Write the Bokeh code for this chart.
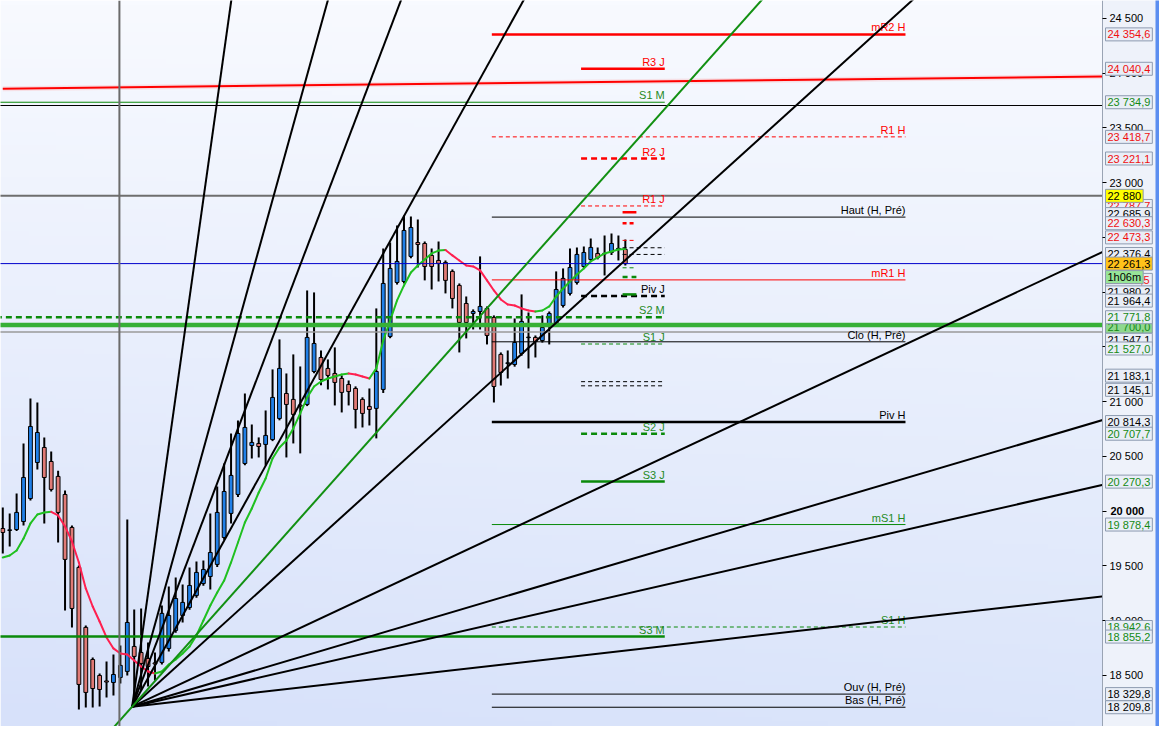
import numpy as np
from bokeh.plotting import figure
from bokeh.models import Range1d, FixedTicker, Span, LinearAxis
from bokeh.embed import file_html
from bokeh.resources import INLINE
from bokeh.core.properties import value

# ---------------- data ----------------
opens = [19842, 19824, 19833, 19906, 20116, 20445, 20582, 20454, 20318, 20153,
         19852, 19487, 18939, 18646, 18500, 18450, 18436, 18482, 18537, 18765,
         18710, 18655, 18615, 18619, 18747, 18911, 19048, 19121, 19231, 19340,
         19404, 19514, 19760, 19980, 20153, 20436, 20600, 20618, 20610, 20655,
         20847, 21075, 21021, 20970, 20975, 21276, 21404, 21304, 21258, 21212,
         21157, 21121, 21021, 20957, 20939, 21112, 21596, 22089, 22098, 22327,
         22454, 22445, 22336, 22290, 22272, 22190, 22062, 21897, 21806, 21824,
         21852, 21770, 21432, 21350, 21340, 21441, 21585, 21587, 21559, 21706,
         21715, 21879, 21989, 22089, 22235, 22299, 22354, 22350, 22363, 22395,
         22391]
highs = [20034, 19979, 20162, 20619, 21030, 20993, 20674, 20546, 20370, 20190,
         19870, 19505, 18957, 18664, 18518, 18628, 18692, 18774, 19925, 19103,
         19112, 18802, 18710, 19140, 19313, 19395, 19331, 19487, 19541, 19550,
         19979, 20226, 20436, 20710, 20829, 21075, 20792, 20674, 20920, 21295,
         21569, 21258, 21432, 21322, 22016, 21998, 21468, 21386, 21496, 21240,
         21194, 21140, 21040, 21121, 21852, 22400, 22454, 22610, 22701, 22692,
         22664, 22463, 22400, 22463, 22290, 22208, 22080, 21961, 21843, 22327,
         21870, 21788, 21450, 21468, 21760, 21980, 21815, 21605, 21788, 21824,
         22190, 22217, 22400, 22409, 22418, 22491, 22409, 22518, 22536, 22518,
         22482]
lows = [19614, 19678, 19820, 19870, 20098, 20381, 19888, 20180, 19715, 19094,
        18939, 18190, 18208, 18208, 18217, 18299, 18318, 18427, 18500, 18272,
        18363, 18400, 18454, 18600, 18720, 18890, 18984, 19100, 19210, 19320,
        19286, 19490, 19740, 19888, 20130, 20420, 20482, 20491, 20418, 20640,
        20830, 20491, 20619, 20528, 20960, 21260, 21150, 21112, 20966, 20902,
        20966, 20756, 20765, 20783, 20665, 21080, 21580, 22070, 22080, 22310,
        22226, 22108, 22025, 22098, 21989, 21852, 21450, 21578, 21660, 21660,
        21523, 20993, 21148, 21212, 21320, 21420, 21304, 21404, 21540, 21523,
        21700, 21860, 21970, 22070, 22220, 22280, 22300, 22153, 22340, 22290,
        22244]
closes = [19806, 19830, 19989, 20308, 20774, 20719, 20308, 20199, 19989, 19560,
          19112, 18418, 18345, 18381, 18372, 18440, 18509, 18592, 18984, 18674,
          18610, 18582, 18605, 19067, 19048, 19203, 19167, 19322, 19441, 19468,
          19623, 19989, 20180, 20327, 20710, 20765, 20628, 20591, 20692, 21039,
          21304, 20975, 20884, 20960, 21587, 21532, 21203, 21240, 21176, 21085,
          21093, 20929, 20893, 20929, 21276, 22080, 22217, 22281, 22564, 22591,
          22436, 22235, 22235, 22263, 22108, 21943, 21724, 21724, 21824, 21870,
          21605, 21139, 21267, 21355, 21541, 21733, 21590, 21550, 21678, 21806,
          22025, 22126, 22226, 22345, 22363, 22409, 22317, 22355, 22445, 22400,
          22261.3]
ma = [19578, 19596, 19641, 19751, 19888, 19970, 19989, 19995, 19961, 19861,
      19724, 19532, 19295, 19130, 18993, 18847, 18747, 18701, 18692, 18637,
      18582, 18537, 18518, 18537, 18600, 18646, 18701, 18765, 18865, 19002,
      19139, 19257, 19367, 19532, 19714, 19897, 20025, 20171, 20299, 20482,
      20582, 20646, 20756, 20893, 21038, 21139, 21185, 21212, 21230, 21249,
      21258, 21249, 21230, 21212, 21304, 21559, 21742, 21925, 22062, 22180,
      22244, 22299, 22354, 22380, 22386, 22336, 22290, 22244, 22235, 22199,
      22108, 22016, 21934, 21888, 21879, 21852, 21833, 21824, 21833, 21870,
      21961, 22034, 22098, 22162, 22217, 22281, 22317, 22354, 22372, 22390,
      22395]

level_names = ["mR2 H", "R3 J", "S1 M", "R1 H", "R2 J", "R1 J", "Haut (H, Pré)",
               "mR1 H", "Piv J", "S2 M", "Clo (H, Pré)", "S1 J", "Piv H", "S2 J",
               "S3 J", "mS1 H", "S1 H", "S3 M", "Ouv (H, Pré)", "Bas (H, Pré)"]
level_values = [24354.6, 24040.4, 23734.9, 23418.7, 23221.1, 22787.7, 22685.9,
                22112.5, 21964.4, 21771.8, 21547.1, 21527.0, 20814.3, 20707.7,
                20270.3, 19878.4, 18942.6, 18855.2, 18329.8, 18209.8]

# short unlabelled levels near the last bar
short_values = [22731.0, 22630.3, 22473.3, 22406.0, 22345.0, 22223.0, 22138.0, 21980.0]
other_values = [21183.1, 21145.1]

# full width horizontal lines
full_values = [23705.0, 22880.0, 21637.0, 21700.0]
last_price = 22261.3
timer_text = "1h06m"

fan_origin = (18.7, 18215.0)
fan_slopes = [450, 228, 166, 114, 57.2, 29.6, 18.66, 14.44, 7.18]
fan_green_slope = 70.9
trend_x = [0, 159]
trend_y = [23859, 23970]
cursor_bar = 16.86

tick_values = list(range(18500, 25000, 500))

tag_values = [24354.6, 24040.4, 23734.9, 23418.7, 23221.1, 22787.7, 22880.0, 22685.9,
              22630.3, 22473.3, 22376.4, 22112.5, 22261.3, 22261.3, 21980.2, 21964.4,
              21700.0, 21771.8, 21547.1, 21527.0, 21183.1, 21145.1, 20814.3, 20707.7,
              20270.3, 19878.4, 18942.6, 18855.2, 18329.8, 18209.8]


def fmt(v, dec=1):
    return f"{v:,.{dec}f}".replace(",", " ").replace(".", ",")


# ---------------- figure ----------------
FIG_W, FIG_H = 1159, 726
PLOT_W = 1102                      # width of the price area, axis panel to its right
ppb = 6.98 * PLOT_W / 1112         # pixels per bar
X0 = -0.33
X1 = X0 + FIG_W / ppb
AX = X0 + PLOT_W / ppb
Y_BOT, Y_TOP = 18034.0, 24664.0
ppu = FIG_H / (Y_TOP - Y_BOT)

RED = "#ff0000"
GREEN = "#0a8a0a"
BLACK = "#000000"
FONT = "Liberation Sans"

p = figure(width=FIG_W, height=FIG_H, x_range=Range1d(X0, X1), y_range=Range1d(Y_BOT, Y_TOP),
           x_axis_location=None, y_axis_location=None, toolbar_location=None, tools="",
           output_backend="svg", min_border=0)
p.grid.visible = False
p.outline_line_color = None
p.border_fill_color = "#eef2fa"

# background gradient
H, W = 160, 40
t = np.linspace(0, 1, H)[:, None]          # 0 bottom, 1 top
u = np.linspace(0, 1, W)[None, :]          # 0 left, 1 right
top = np.array([248, 250, 255])
bot = np.array([219, 229, 250])
img = np.empty((H, W), dtype=np.uint32)
view = img.view(dtype=np.uint8).reshape((H, W, 4))
for k in range(3):
    c = bot[k] * (1 - t) + top[k] * t - (1 - u) * (1 - t) * 4 * (k < 2)
    view[:, :, k] = np.clip(c, 0, 255).astype(np.uint8)
view[:, :, 3] = 255
p.image_rgba(image=[img], x=X0, y=Y_BOT, dw=AX - X0, dh=Y_TOP - Y_BOT)

# candles
bars = np.arange(len(opens))
o = np.array(opens, dtype=float)
c = np.array(closes, dtype=float)
up = c >= o
p.segment(x0=bars, y0=highs, x1=bars, y1=lows, color="black", line_width=2)
p.vbar(x=bars, width=0.55, top=np.maximum(o, c), bottom=np.minimum(o, c),
       fill_color=["#2080e8" if u_ else "#e07a76" for u_ in up],
       line_color="black", line_width=1)

# moving average coloured by direction
ma_arr = np.array(ma, dtype=float)
seg_col = ["#20c020" if ma_arr[i + 1] >= ma_arr[i] else "#ff2050" for i in range(len(ma) - 1)]
p.segment(x0=bars[:-1], y0=ma_arr[:-1], x1=bars[1:], y1=ma_arr[1:], color=seg_col,
          line_width=2, line_cap="round")

# levels
def level_style(name):
    if name.startswith("R") or name.startswith("mR"):
        col = RED
    elif name.startswith("S") or name.startswith("mS"):
        col = GREEN
    else:
        col = BLACK
    if name.endswith(" J"):
        span = (83.6, 95.7)
    elif name.endswith(" M"):
        span = (-1.0, 95.7)
    else:
        span = (70.7, 130.5)
    thick = {"mR2 H", "R3 J", "R2 J", "Piv J", "S2 M", "Piv H", "S2 J", "S3 J", "S3 M"}
    dashed = {"R1 H", "R2 J", "R1 J", "Piv J", "S2 M", "S1 J", "S2 J", "S1 H"}
    w = 2.5 if name in thick else 1
    dash = ("6 4" if w > 1 else "4 3") if name in dashed else "solid"
    return col, span, w, dash


# full width lines (price area only)
full_styles = [(BLACK, 1), ("#6e6e6e", 2), ("#9a9a9a", 1.5), ("#36b036", 4.5)]
for val, (col, w) in zip(full_values, full_styles):
    p.segment(x0=[X0 - 1], y0=[val], x1=[AX], y1=[val], color=col, line_width=w)

for name, val in zip(level_names, level_values):
    col, (xs, xe), w, dash = level_style(name)
    p.segment(x0=[xs], y0=[val], x1=[xe], y1=[val], color=col, line_width=w, line_dash=dash)
    p.text(x=[xe], y=[val], text=[name], text_align="right", text_baseline="bottom",
           text_font=value(FONT), text_font_size="11px",
           text_color=col if col != GREEN else "#1f8a1f", y_offset=-1)

short_styles = [(RED, 2.5, "solid", 91.6), (RED, 2.5, "4 3", 91.6), (RED, 1, "4 3", 91.6),
                (BLACK, 1, "4 3", 95.7), (BLACK, 1, "4 3", 95.7), (GREEN, 1, "4 3", 91.6),
                (GREEN, 2.5, "5 4", 91.6), (GREEN, 2.5, "solid", 91.6)]
for val, (col, w, dash, xe) in zip(short_values, short_styles):
    p.segment(x0=[89.6], y0=[val], x1=[xe], y1=[val], color=col, line_width=w, line_dash=dash)
for val in other_values:
    p.segment(x0=[83.6], y0=[val], x1=[95.7], y1=[val], color=BLACK, line_width=1, line_dash="4 3")

p.segment(x0=[X0 - 1], y0=[last_price], x1=[AX], y1=[last_price], color="#0000cc", line_width=1)

# red trend line
p.line(trend_x, trend_y, color="#ff8080", line_width=5, alpha=0.2)
p.line(trend_x, trend_y, color=RED, line_width=2)

# fan
ox, oy = fan_origin
xe = 230.0
p.segment(x0=[ox] * len(fan_slopes), y0=[oy] * len(fan_slopes), x1=[xe] * len(fan_slopes),
          y1=[oy + s * (xe - ox) for s in fan_slopes], color="black", line_width=2)
p.segment(x0=[ox - 4], y0=[oy - fan_green_slope * 4], x1=[xe],
          y1=[oy + fan_green_slope * (xe - ox)], color="#129012", line_width=2)

p.add_layout(Span(location=cursor_bar, dimension="height", line_color="#6b6b6b", line_width=2))

# axis panel
p.quad(left=[AX], right=[X1 + 1], bottom=[Y_BOT - 500], top=[Y_TOP + 500],
       fill_color="#eef2fa", line_color=None)
p.quad(left=[X0 + (FIG_W - 4) / ppb], right=[X1 + 1], bottom=[Y_BOT - 500],
       top=[Y_TOP + 500], fill_color="#5b8ef0", line_color=None)

ax = LinearAxis(fixed_location=AX, ticker=FixedTicker(ticks=tick_values))
ax.major_label_overrides = {t_: ("" if t_ == 20000 else fmt(t_, 0)) for t_ in tick_values}
ax.major_label_text_font = FONT
ax.major_label_text_font_size = "11px"
ax.major_label_text_color = "black"
ax.axis_line_color = "#9aa4b4"
ax.major_tick_line_color = "black"
ax.major_tick_in = 0
ax.major_tick_out = 4
ax.minor_tick_line_color = None
ax.major_label_standoff = 3
p.add_layout(ax, "right")

p.text(x=[X0 + (PLOT_W + 8) / ppb], y=[20000], text=[fmt(20000, 0)], text_font=value(FONT),
       text_font_size="11px", text_font_style="bold", text_baseline="middle",
       text_align="left", level="overlay")

# price tags on the axis
tag_colors = [RED, RED, GREEN, RED, RED, RED, BLACK, BLACK, RED, RED, BLACK, RED, BLACK,
              BLACK, BLACK, BLACK, GREEN, GREEN, BLACK, GREEN, BLACK, BLACK, BLACK, GREEN,
              GREEN, GREEN, GREEN, GREEN, BLACK, BLACK]
tag_bg = {6: "#ffff00", 12: "#ffc21a", 13: "#98e598", 16: "#8fd88f"}
tag_off = {7: -3, 9: -3, 10: 3, 13: 13.5, 14: -2, 15: 4.5, 16: 1.5, 18: -2, 19: 4.5,
           20: -6, 21: 4}


def text_width(s):
    w = 0.0
    for ch in s:
        if ch.isdigit():
            w += 6.12
        elif ch in " ,":
            w += 3.06
        elif ch == "m":
            w += 9.2
        else:
            w += 6.12
    return w


TAG_L = PLOT_W + 3
for i, val in enumerate(tag_values):
    txt = fmt(val)
    if i == 6:
        txt = fmt(val, 0)
    if i == 13:
        txt = timer_text
    col = tag_colors[i]
    if col == GREEN:
        col = "#148a14"
    if col == RED:
        col = "#f01010"
    bw = text_width(txt) + 4
    cy = val - tag_off.get(i, 0) / ppu
    p.rect(x=[X0 + (TAG_L + bw / 2) / ppb], y=[cy], width=[bw], height=[13],
           width_units="screen", height_units="screen",
           fill_color=tag_bg.get(i, "#e9eef7"), line_color="#8d9bb0", level="overlay")
    p.text(x=[X0 + (TAG_L + 2) / ppb], y=[cy], text=[txt], text_color=col, text_font=value(FONT),
           text_font_size="11px", text_baseline="middle", text_align="left", level="overlay")

open("out.html", "w").write(file_html(p, INLINE))
